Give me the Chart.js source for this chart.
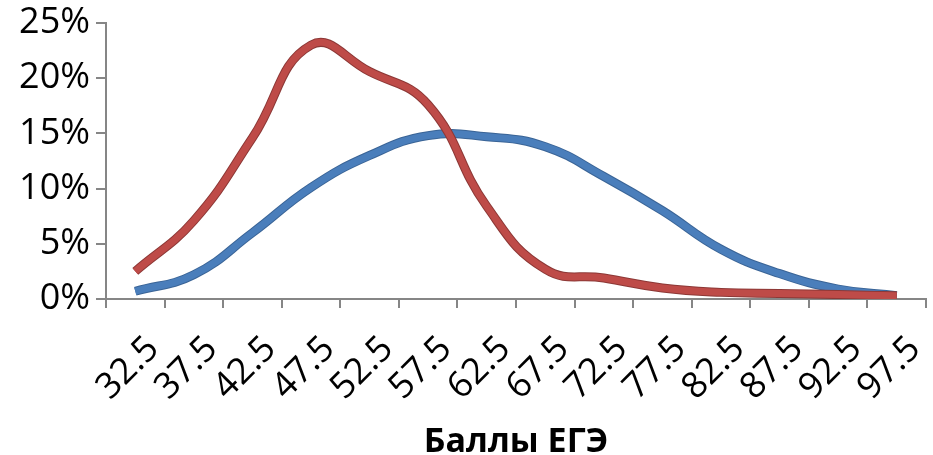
<!doctype html>
<html>

<head>
  <title>Баллы ЕГЭ</title>
  <script src="https://cdn.jsdelivr.net/npm/chart.js"></script>
  <style>
    html, body { margin: 0; padding: 0; background: #fff; }
    #wrap { width: 933px; height: 455px; }
  </style>
</head>

<body>
<div id="wrap"><canvas id="chart"></canvas></div>
<script>
    // categories (EGE score bins) and two series, percent
    const scores = ['32.5', '37.5', '42.5', '47.5', '52.5', '57.5', '62.5', '67.5', '72.5', '77.5', '82.5', '87.5', '92.5', '97.5'];
    const blueSeries = [0.7, 2.2, 6.0, 10.1, 13.0, 14.8, 14.7, 13.8, 11.1, 8.0, 4.5, 2.3, 0.9, 0.3];
    const redSeries = [2.5, 7.1, 14.6, 23.0, 20.6, 17.6, 8.4, 2.7, 1.9, 1.0, 0.6, 0.5, 0.4, 0.3];
    const yTicks = [0, 5, 10, 15, 20, 25];
    const xTitle = 'Баллы ЕГЭ';

    const blue = '#4a7ebb';
    const red = '#be4b48';
    const axisColor = '#868686';
    const font = '"Open Sans", sans-serif';

    function line(data, color, width, order) {
        return {
            data: data,
            borderColor: color,
            borderWidth: width,
            pointRadius: 0,
            fill: false,
            tension: 0.45,
            borderCapStyle: 'butt',
            order: order
        };
    }

    const ctx = document.getElementById('chart').getContext('2d');
    const chart = new Chart(ctx, {
        type: 'line',
        data: {
            labels: scores,
            datasets: [
                line(redSeries, red, 7, 1),
                line(redSeries, '#8c3836', 9, 2),
                line(blueSeries, blue, 7, 3),
                line(blueSeries, '#3a6496', 9, 4)
            ]
        },
        options: {
            responsive: true,
            maintainAspectRatio: false,
            animation: false,
            layout: { padding: { top: 23, right: 7, left: 0, bottom: 0 } },
            plugins: { legend: { display: false }, tooltip: { enabled: false } },
            scales: {
                x: {
                    offset: true,
                    grid: {
                        offset: true,
                        drawOnChartArea: false,
                        color: axisColor,
                        lineWidth: 2,
                        tickLength: 9
                    },
                    border: { color: axisColor, width: 2 },
                    ticks: {
                        color: '#000',
                        font: { family: font, size: 36 },
                        minRotation: 45,
                        maxRotation: 45,
                        autoSkip: false,
                        padding: 20,
                        labelOffset: 18
                    },
                    title: {
                        display: true,
                        text: xTitle,
                        color: '#000',
                        font: { family: font, size: 34, weight: 'bold' },
                        padding: { top: 0, bottom: -8 }
                    },
                    afterFit: scale => {
                        scale.height = 156;
                        scale.paddingLeft = 0;
                        scale.paddingRight = 0;
                    }
                },
                y: {
                    min: 0,
                    max: 25,
                    afterBuildTicks: scale => { scale.ticks = yTicks.map(v => ({ value: v })); },
                    grid: {
                        drawOnChartArea: false,
                        color: axisColor,
                        lineWidth: 2,
                        tickLength: 10
                    },
                    border: { color: axisColor, width: 2 },
                    ticks: {
                        color: '#000',
                        font: { family: font, size: 36 },
                        padding: 6,
                        callback: v => v + '%'
                    },
                    afterFit: scale => {
                        scale.width = 106;
                        scale.paddingTop = 0;
                        scale.paddingBottom = 0;
                    }
                }
            }
        }
    });
</script>
</body>

</html>
